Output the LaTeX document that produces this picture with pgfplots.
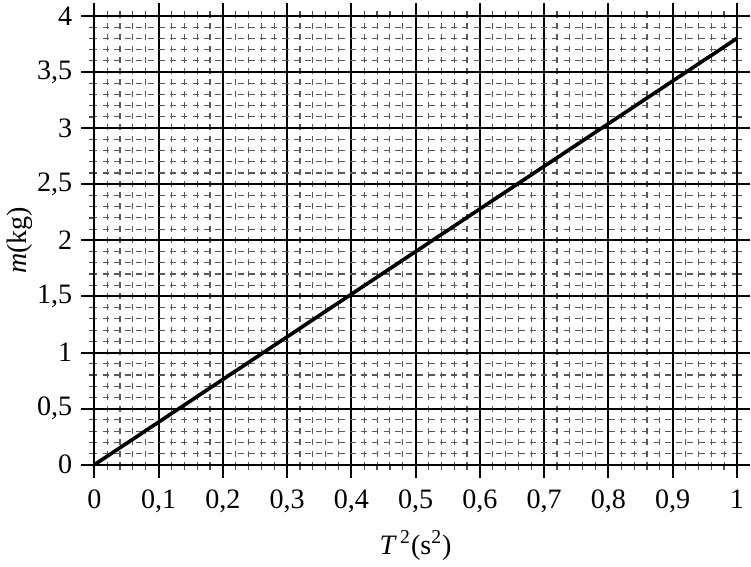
\documentclass[border=0pt]{standalone}
\usepackage{fontspec}
\setmainfont{Liberation Serif}
\usepackage{pgfplots}
\pgfplotsset{compat=1.18}

\begin{document}
\begin{tikzpicture}
\begin{axis}[
  scale only axis, width=320pt, height=223.5pt,
  xmin=0, xmax=1, ymin=0, ymax=4,
  xtick={0,0.1,...,1.0001}, ytick={0,0.5,...,4.0001},
  minor x tick num=4, minor y tick num=4,
  tick align=outside, xtick pos=both, ytick pos=both,
  xticklabel pos=lower, yticklabel pos=left,
  major tick length=6.5pt, minor tick length=2.5pt,
  every tick/.style={black, line width=1pt},
  minor tick style={black!70, line width=0.6pt},
  grid=both,
  major grid style={black, line width=1pt},
  minor grid style={black!65, line width=0.55pt, dash pattern=on 3pt off 2.6pt, dash phase=1.5pt},
  axis line style={black, line width=1pt},
  /pgf/number format/assume math mode=true,
  /pgf/number format/use comma,
  ticklabel style={font=\fontsize{14}{16}\selectfont},
  xticklabel style={yshift=-2.5pt},
  yticklabel style={xshift=-1pt},
  label style={font=\fontsize{14}{16}\selectfont},
  xlabel={\textit{T}\textsuperscript{\,2}(s\textsuperscript{2})},
  ylabel={\textit{m}(kg)},
  xlabel style={yshift=-2pt},
  ylabel style={yshift=-4.5pt},
]
\addplot[black, line width=1.8pt] coordinates {(0,0) (1,3.8)};
\end{axis}
\end{tikzpicture}
\end{document}
